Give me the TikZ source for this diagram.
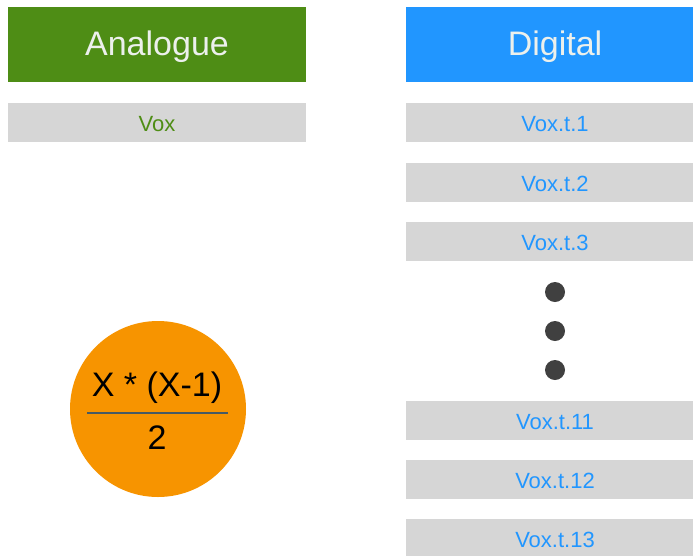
\documentclass[tikz,border=0pt]{standalone}
\usepackage{fontspec}
\setmainfont{Liberation Sans}
\definecolor{hdrgreen}{RGB}{78,141,21}
\definecolor{hdrblue}{RGB}{33,150,255}
\definecolor{barbg}{RGB}{214,214,214}
\definecolor{circfill}{RGB}{247,148,0}
\definecolor{dotgray}{RGB}{64,64,64}
\definecolor{hdrtext}{RGB}{236,240,236}
\definecolor{fracline}{RGB}{70,90,100}
\begin{document}
\begin{tikzpicture}[x=1pt,y=-1pt,
  header/.style={draw=none,inner sep=0pt,text=hdrtext,font=\fontsize{34}{40}\selectfont},
  bar/.style={draw=none,fill=barbg,inner sep=0pt,font=\fontsize{22}{26}\selectfont},
  ellipsisdot/.style={circle,fill=dotgray,minimum size=20pt,inner sep=0pt}]
\useasboundingbox (0,0) rectangle (693,555);
\fill[white] (0,0) rectangle (693,555);
% column headers
\fill[hdrgreen] (8,7) rectangle (306,82);
\node[header] (analogue) at (157,47) {Analogue};
\fill[hdrblue] (406,7) rectangle (693,82);
\node[header] (digital) at (555,47) {Digital};
% analogue column
\fill[barbg] (8,103) rectangle (306,142);
\node[bar,fill=none,text=hdrgreen] (vox) at (157,124) {Vox};
% digital column
\foreach \yy/\lbl/\nm in {103/Vox.t.1/t1,163/Vox.t.2/t2,222/Vox.t.3/t3,401/Vox.t.11/t11,460/Vox.t.12/t12,519/Vox.t.13/t13}{
  \fill[barbg] (406,\yy) rectangle (693,\yy+39);
  \node[bar,fill=none,text=hdrblue] (\nm) at (555,\yy+21) {\lbl};
}
\node[ellipsisdot] (d1) at (555,292) {};
\node[ellipsisdot] (d2) at (555,331) {};
\node[ellipsisdot] (d3) at (555,370) {};
% formula circle
\fill[circfill] (158,409) circle (88);
\node[inner sep=0pt,font=\fontsize{34}{40}\selectfont] (num) at (157,388) {X * (X-1)};
\draw[fracline,line width=2pt] (87,413) -- (228,413);
\node[inner sep=0pt,font=\fontsize{34}{40}\selectfont] (den) at (157,438) {2};
\end{tikzpicture}
\end{document}
